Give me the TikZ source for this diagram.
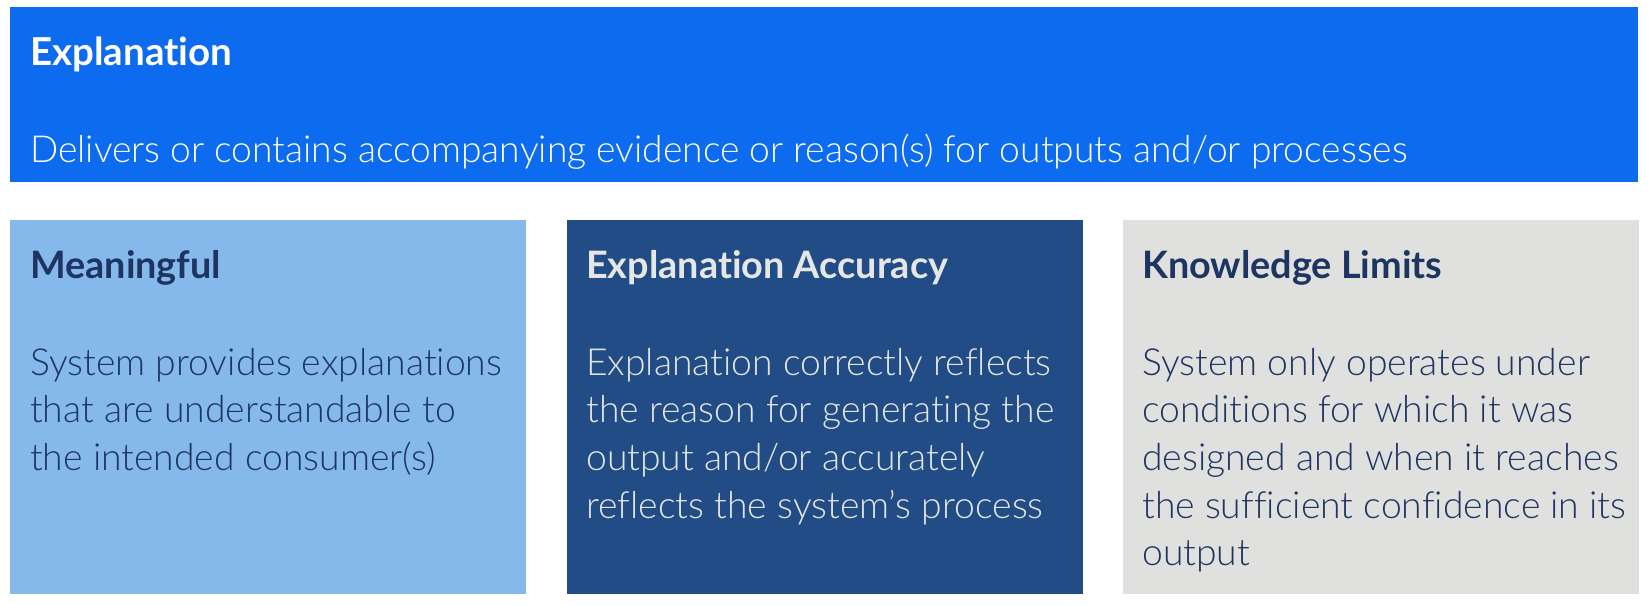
\documentclass[tikz,border=0pt]{standalone}
\usepackage{fontspec}
\newfontfamily\bodyfont{Lato Light}[Ligatures=NoCommon]
\newfontfamily\headfont{Lato}[Ligatures=NoCommon]
\definecolor{topblue}{RGB}{13,107,239}
\definecolor{lightblue}{RGB}{133,185,236}
\definecolor{darkblue}{RGB}{33,76,134}
\definecolor{lightgrey}{RGB}{224,224,223}
\definecolor{navytext}{RGB}{30,53,98}
\definecolor{paletext}{RGB}{230,230,230}
\tikzset{
  panel/.style={anchor=north west, inner sep=0pt, minimum height=374pt, minimum width=516pt},
  toppanel/.style={anchor=north west, inner sep=0pt, minimum height=175pt, minimum width=1628pt, fill=topblue},
  headtxt/.style={anchor=base west, inner sep=0pt, font=\headfont\bfseries\fontsize{37.8}{45}\selectfont},
  bodytxt/.style={anchor=base west, inner sep=0pt, font=\bodyfont\fontsize{37.3}{45}\selectfont},
}
\begin{document}
\begin{tikzpicture}[x=1pt,y=-1pt]
\useasboundingbox (0,0) rectangle (1649,605);
\node[toppanel] (top) at (10,6.5) {};
\node[headtxt, text=white, font=\headfont\bfseries\fontsize{38.5}{45}\selectfont] (toptitle) at (30,65.7) {Explanation};
\node[bodytxt, text=white, font=\bodyfont\fontsize{37.2}{45}\selectfont] (topbody) at (30,162.3) {Delivers or contains accompanying evidence or reason(s) for outputs and/or processes};

\node[panel, fill=lightblue] (b1) at (10,219.3) {};
\node[panel, fill=darkblue] (b2) at (566.3,219.3) {};
\node[panel, fill=lightgrey] (b3) at (1122.3,219.3) {};

\node[headtxt, text=navytext] (t1) at (30,278.3) {Meaningful};
\node[headtxt, text=paletext] (t2) at (586,278.3) {Explanation Accuracy};
\node[headtxt, text=navytext] (t3) at (1142,278.3) {Knowledge Limits};

\node[bodytxt, text=navytext] (d1a) at (30,375) {System provides explanations};
\node[bodytxt, text=navytext] (d1b) at (30,422.7) {that are understandable to};
\node[bodytxt, text=navytext] (d1c) at (30,470.4) {the intended consumer(s)};

\node[bodytxt, text=paletext] (d2a) at (586,375) {Explanation correctly reflects};
\node[bodytxt, text=paletext] (d2b) at (586,422.7) {the reason for generating the};
\node[bodytxt, text=paletext] (d2c) at (586,470.4) {output and/or accurately};
\node[bodytxt, text=paletext] (d2d) at (586,518.1) {reflects the system’s process};

\node[bodytxt, text=navytext] (d3a) at (1142,375) {System only operates under};
\node[bodytxt, text=navytext] (d3b) at (1142,422.7) {conditions for which it was};
\node[bodytxt, text=navytext] (d3c) at (1142,470.4) {designed and when it reaches};
\node[bodytxt, text=navytext] (d3d) at (1142,518.1) {the sufficient confidence in its};
\node[bodytxt, text=navytext] (d3e) at (1142,565.8) {output};
\end{tikzpicture}
\end{document}
